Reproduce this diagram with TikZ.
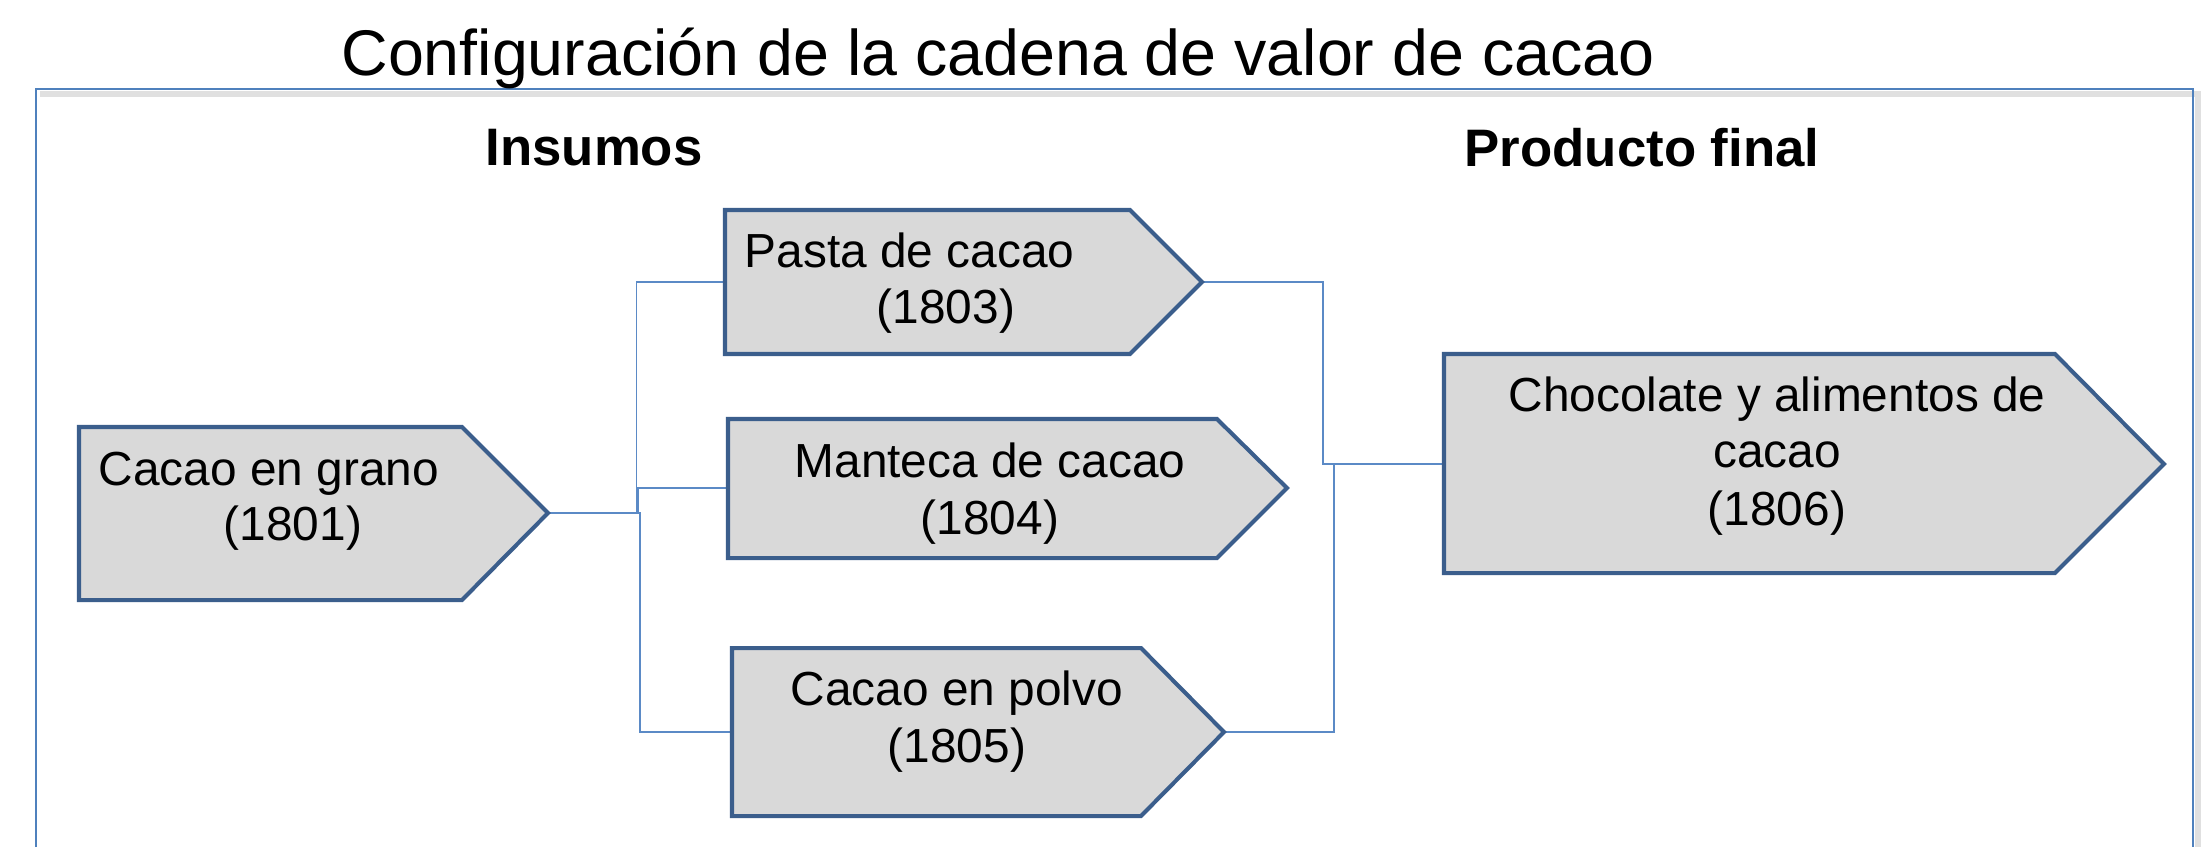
\documentclass[tikz,border=0pt]{standalone}
\usepackage{fontspec}
\setmainfont{Liberation Sans}
\usetikzlibrary{calc}
\definecolor{boxline}{HTML}{3B5E8C}
\definecolor{connc}{HTML}{5B8AC6}
\definecolor{framec}{HTML}{4F81BD}
\definecolor{boxfill}{HTML}{D9D9D9}
\begin{document}
\begin{tikzpicture}[x=0.01cm,y=-0.01cm,
  pent/.style={draw=boxline, fill=boxfill, line width=1.15pt, line join=miter},
  conn/.style={draw=connc, line width=0.5pt},
  boxtxt/.style={font=\fontsize{13.6}{16}\selectfont, inner sep=0pt, anchor=base},
  headtxt/.style={font=\fontsize{15}{18}\selectfont\bfseries, inner sep=0pt, anchor=base},
  titletxt/.style={font=\fontsize{18.35}{22}\selectfont, inner sep=0pt, anchor=base}]
\useasboundingbox (0,0) rectangle (2208,847);
\fill[white] (0,0) rectangle (2208,847);
% frame with soft shadow
\draw[black!12, line width=1.6pt] (40,94) -- (2198,94) -- (2198,847);
\draw[framec, line width=0.6pt] (36,847) -- (36,89) -- (2193,89) -- (2193,847);
% titles
\node[titletxt] (title) at (998,75) {Configuración de la cadena de valor de cacao};
\node[headtxt] (insumos) at (594,165) {Insumos};
\node[headtxt] (final) at (1642,166) {Producto final};
% anchor coordinates
\coordinate (granoT) at (548,513);
\coordinate (pastaL) at (725,282);
\coordinate (pastaT) at (1202,282);
\coordinate (mantecaL) at (728,488);
\coordinate (polvoL) at (732,732);
\coordinate (polvoT) at (1224,732);
\coordinate (chocoL) at (1444,464);
% connectors
\draw[conn] (granoT) -| ($(granoT)!0.5!(pastaL)$) |- (pastaL);
\draw[conn] (granoT) -| ($(granoT)!0.5!(mantecaL)$) |- (mantecaL);
\draw[conn] (granoT) -| ($(granoT)!0.5!(polvoL)$) |- (polvoL);
\draw[conn] (pastaT) -| ($(pastaT)!0.5!(chocoL)$) |- (chocoL);
\draw[conn] (polvoT) -| ($(polvoT)!0.5!(chocoL)$) |- (chocoL);
% shapes
\draw[pent] (79,427) -- (462,427) -- (granoT) -- (462,600) -- (79,600) -- cycle;
\draw[pent] (725,210) -- (1130,210) -- (pastaT) -- (1130,354) -- (725,354) -- cycle;
\draw[pent] (728,419) -- (1217,419) -- (1287,488) -- (1217,558) -- (728,558) -- cycle;
\draw[pent] (732,648) -- (1141,648) -- (polvoT) -- (1141,816) -- (732,816) -- cycle;
\draw[pent] (1444,354) -- (2055,354) -- (2164,464) -- (2055,573) -- (1444,573) -- cycle;
% texts
\node[boxtxt, anchor=base west] (grano1) at (98,485) {Cacao en grano};
\node[boxtxt] (grano2) at (293,540) {(1801)};
\node[boxtxt, anchor=base west] (pasta1) at (744,267) {Pasta de cacao};
\node[boxtxt] (pasta2) at (946,323) {(1803)};
\node[boxtxt] (manteca1) at (990,477) {Manteca de cacao};
\node[boxtxt] (manteca2) at (990,534) {(1804)};
\node[boxtxt] (polvo1) at (957,705) {Cacao en polvo};
\node[boxtxt] (polvo2) at (957,762) {(1805)};
\node[boxtxt] (choco1) at (1777,411) {Chocolate y alimentos de};
\node[boxtxt] (choco2) at (1777,467) {cacao};
\node[boxtxt] (choco3) at (1777,525) {(1806)};
\end{tikzpicture}
\end{document}
